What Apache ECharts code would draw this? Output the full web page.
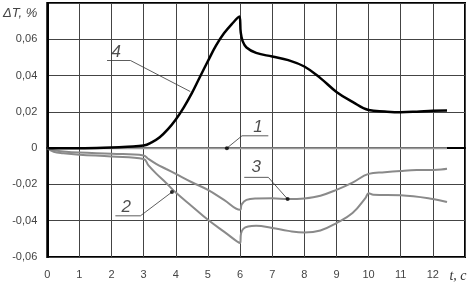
<!DOCTYPE html>
<html><head><meta charset="utf-8">
<script src="https://cdn.jsdelivr.net/npm/echarts@6/dist/echarts.min.js"></script>
<style>html,body{margin:0;padding:0;background:#fff}#c{width:473px;height:284px}</style>
</head><body><div id="c"></div>
<script>
// x ticks 0..12 (13 carries the axis name), y ticks -0.06..0.08 (0.08 carries the axis name)
const xTicks = [0,1,2,3,4,5,6,7,8,9,10,11,12,13];
const yTicks = [-0.06,-0.04,-0.02,0,0.02,0.04,0.06,0.08];

const t1 = [0,1,2,3,4,5,6,7,8,9,10,11,12,12.44];
const v1 = [0,0,0,0,0,0,0,0,0,0,0,0,0,0];

const t2 = [0,0.2,0.5,1,2,3,3.15,3.4,3.7,4,4.5,5,5.5,6,6.03,6.1,6.25,6.5,7,7.5,8,8.5,9,9.5,9.9,10,10.15,11,12,12.44];
const v2 = [0,-0.002,-0.0028,-0.0036,-0.0046,-0.006,-0.0095,-0.0142,-0.0192,-0.0245,-0.032,-0.0395,-0.046,-0.0523,-0.047,-0.0445,-0.0432,-0.0428,-0.044,-0.0456,-0.0465,-0.0454,-0.0413,-0.0358,-0.0275,-0.0248,-0.0257,-0.026,-0.028,-0.0297];

const t3 = [0,0.2,0.5,1,2,3,3.15,3.4,3.7,4,4.5,5,5.5,6,6.05,6.2,6.5,7,7.5,8,8.5,9,9.5,10,10.5,11,11.5,12,12.44];
const v3 = [0,-0.0012,-0.0018,-0.0024,-0.0031,-0.004,-0.006,-0.0088,-0.0115,-0.0142,-0.0188,-0.023,-0.0285,-0.034,-0.031,-0.0285,-0.0277,-0.0276,-0.0281,-0.0277,-0.0262,-0.023,-0.019,-0.0142,-0.0133,-0.0126,-0.0121,-0.012,-0.0114];

const t4 = [0,1,2,2.5,3,3.25,3.5,3.75,4,4.25,4.5,4.75,5,5.25,5.5,5.75,5.98,6.02,6.08,6.2,6.5,7,7.5,8,8.5,9,9.5,10,10.5,11,11.5,12,12.44];
const v4 = [0,0,0.0004,0.0008,0.0014,0.0032,0.006,0.0103,0.0158,0.0225,0.0303,0.0392,0.048,0.0565,0.0633,0.0685,0.0725,0.064,0.059,0.0555,0.0525,0.0505,0.0485,0.045,0.0386,0.031,0.0255,0.021,0.0202,0.0198,0.0201,0.0206,0.0207];

// callout labels: text, text position, underline start/end and pointer target (data units)
const calloutNames = ['1','2','3','4'];
const calloutText = [[6.56,0.0117],[2.46,-0.0328],[6.5,-0.0108],[2.15,0.0527]];
const calloutLines = [
  [[5.59,0],[6.06,0.0068],[6.88,0.0068]],
  [[3.88,-0.0242],[2.90,-0.0373],[2.12,-0.0373]],
  [[7.48,-0.0281],[6.88,-0.0161],[6.13,-0.0161]],
  [[4.45,0.0312],[2.59,0.0483],[1.86,0.0483]]
];
const calloutDots = [[5.59,0],[3.88,-0.0242],[7.48,-0.0281]];

const zip = (a,b) => a.map((x,i)=>[x,b[i]]);

const chart = echarts.init(document.getElementById('c'), null, {renderer:'canvas'});
const series = [
  {type:'line', data:zip(t1,v1), symbol:'none', lineStyle:{color:'#9a9a9a', width:2}, z:2},
  {type:'line', data:zip(t2,v2), symbol:'none', smooth:0.4, lineStyle:{color:'#8a8a8a', width:2}, z:2},
  {type:'line', data:zip(t3,v3), symbol:'none', smooth:0.4, lineStyle:{color:'#8a8a8a', width:2}, z:2},
  {type:'line', data:zip(t4,v4), symbol:'none', smooth:0.4, lineStyle:{color:'#000', width:2.5}, z:3}
];
calloutLines.forEach(l => series.push({type:'line', data:l, symbol:'none', lineStyle:{color:'#333', width:0.8}, z:4, silent:true}));
series.push({type:'scatter', data:calloutDots, symbolSize:4, itemStyle:{color:'#000'}, z:5});
series.push({type:'scatter', data:calloutText.map((p,i)=>[p[0],p[1],calloutNames[i]]), symbolSize:0, z:5,
  label:{show:true, position:'inside', formatter:p=>p.data[2], fontStyle:'italic', fontSize:17, fontFamily:'Liberation Sans', color:'#222'}});

chart.setOption({
  animation:false,
  grid:{left:47, top:3, right:8, bottom:27, show:true, borderColor:'#000', borderWidth:2},
  xAxis:{type:'value', min:0, max:13, interval:1,
    axisLine:{show:true, lineStyle:{color:'#000', width:2}}, axisTick:{show:false},
    splitLine:{show:true, lineStyle:{color:'#444', width:1}},
    axisLabel:{margin:12, fontSize:11, fontFamily:'Liberation Sans', color:'#444', showMaxLabel:true,
      formatter:v=> v===13 ? '{n|t, c}' : String(v),
      rich:{n:{fontFamily:'Liberation Serif', fontStyle:'italic', fontSize:14, color:'#333', padding:[0,14,0,0]}}}},
  yAxis:{type:'value', min:-0.06, max:0.08, interval:0.02,
    axisLine:{show:true, lineStyle:{color:'#000', width:2}}, axisTick:{show:false},
    splitLine:{show:true, lineStyle:{color:'#444', width:1}},
    axisLabel:{margin:10, fontSize:11, fontFamily:'Liberation Sans', color:'#444', showMaxLabel:true,
      formatter:v=>{ const r=Math.round(v*100)/100; if (Math.abs(r-0.08)<1e-9) return '{n|ΔT, %}'; if (r===0) return '0'; return r.toFixed(2).replace('.',','); },
      rich:{n:{fontFamily:'Liberation Sans', fontStyle:'italic', fontSize:13, color:'#444', padding:[20,0,0,0]}}}},
  series:series
});
</script></body></html>
